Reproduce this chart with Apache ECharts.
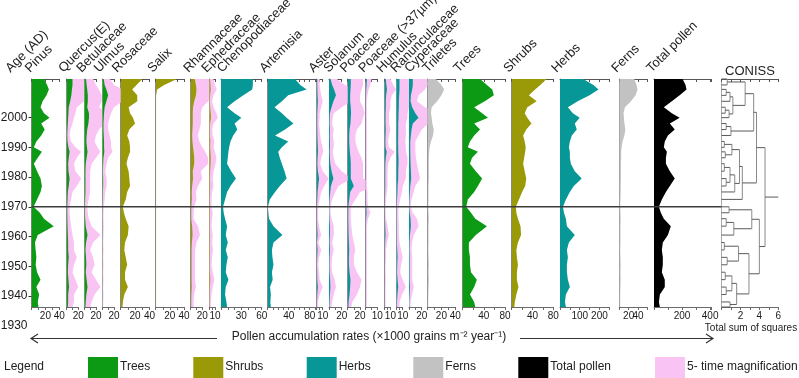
<!DOCTYPE html>
<html><head><meta charset="utf-8">
<script src="https://cdn.jsdelivr.net/npm/echarts@6/dist/echarts.min.js"></script>
<style>html,body{margin:0;padding:0;background:#fff}#c{width:799px;height:378px}</style>
</head><body><div id="c"></div>
<script>
// ---- Data (sample ages, AD) ----
const ages = [2013, 2011, 2009.5, 2007.5, 2005.5, 2003.5, 2001.5, 2000, 1998, 1996, 1994, 1992, 1990, 1988.5, 1986.5, 1984.5, 1982, 1979.5, 1977, 1975, 1972.5, 1970, 1968, 1966, 1963.5, 1960.5, 1958, 1955.5, 1953, 1950.5, 1948, 1945.5, 1943, 1940.5, 1938, 1936.3];
// pollen accumulation rates (x1000 grains m-2 yr-1)
const pinus = [18, 22.5, 25, 21.6, 16, 13, 18, 26, 14, 19, 14, 7, 3.4, 15, 9, 3.4, 8, 13, 15, 13, 8, 3, 12, 18, 32, 9, 5, 6, 7, 6, 8, 13, 7, 11, 9, 10];
const quercus = [10, 10, 9, 8, 6, 3.5, 3, 2.5, 2, 1.3, 1, 1.5, 3, 5, 3.5, 2.5, 3, 5, 3.5, 2, 1.5, 1, 1, 1.2, 1.5, 2, 2.5, 2.5, 3.5, 2.5, 2, 3, 4, 2.5, 2.5, 2];
const betulaceae = [3, 4, 5, 6, 6, 5, 8, 8, 7, 5, 4, 3.5, 4.5, 5.5, 4, 2.5, 2, 2, 2, 2, 1.5, 1, 1.2, 1.5, 2.5, 5.5, 3, 2, 3, 3.5, 2.5, 4, 5.5, 3.5, 2.5, 2];
const ulmus = [2.6, 4, 7, 10, 7, 4, 3, 2.5, 2, 2, 2.5, 3, 3, 3.5, 2, 1.5, 1, 1.5, 1.5, 1, 0.8, 0.5, 0.4, 0.4, 0.5, 0.4, 0.3, 0.4, 0.3, 0.4, 0.3, 0.4, 0.3, 0.4, 0.3, 0.3];
const rosaceae = [30, 22, 16, 23, 23, 11, 13, 17, 20, 12, 9, 12, 13, 13, 10, 8, 11, 12, 13, 9, 7, 3, 4.5, 7, 11, 10, 6, 5, 7, 9, 6, 6, 10, 5, 3, 2.5];
const salix = [30, 12, 2, 0.6, 0.5, 0.5, 0.5, 0.5, 0.5, 0.5, 0.5, 0.5, 0.5, 0.5, 0.5, 0.5, 0.5, 0.5, 0.5, 0.5, 0.5, 0.5, 0.5, 0.5, 0.5, 0.5, 0.5, 0.5, 0.5, 0.5, 0.5, 0.5, 0.5, 0.5, 0.5, 0.5];
const rhamnaceae = [7, 9, 10, 9, 6, 4, 3.5, 3.5, 3.5, 3, 2.5, 3, 4, 5, 6, 6, 3.5, 4, 2.5, 1.8, 2, 1.2, 1, 1, 2.5, 3.2, 2, 1.5, 1.5, 1.5, 1.5, 1.5, 1.8, 1.2, 1, 1];
const ephedraceae = [1.4, 2, 2.6, 1.5, 1, 1.5, 2.5, 3, 1.5, 1, 1.2, 1.8, 1.5, 2, 2.5, 2.2, 1.5, 1.2, 1.5, 1, 0.8, 0.8, 1.2, 1, 0.8, 1.2, 1, 1.3, 1, 0.8, 1.2, 1.8, 1.2, 0.8, 0.6, 0.6];
const chenopodiaceae = [47, 47, 46, 33, 20, 9, 20, 30, 20, 24, 18, 14, 12, 11, 10, 9, 15, 22, 14, 9, 6, 3, 4, 6, 9, 7, 10, 7, 10, 8, 7, 11, 7, 6, 8, 9];
const artemisia = [52, 62, 74, 39, 27, 13, 27, 36, 49, 33, 14, 39, 27, 20, 23, 27, 32, 36, 23, 14, 4, 0.5, 1.3, 2.5, 11, 28, 11, 8, 9, 11, 8, 9.5, 4.5, 6, 5, 6];
const aster = [1, 1, 1.2, 1.5, 2, 1.5, 1, 1, 0.8, 1, 1.2, 1.5, 2, 2.2, 1.5, 1.2, 2, 4, 2.5, 1.5, 1, 0.5, 0.5, 0.5, 0.8, 1.5, 0.5, 1.5, 0.8, 0.5, 0.8, 1, 2, 1, 0.5, 0.5];
const solanum = [2.5, 5, 8, 11, 7, 4, 1.5, 1.2, 1, 1.5, 1.2, 1.5, 1.5, 1.2, 1.5, 2, 4, 7, 3, 2, 1, 0.5, 0.5, 0.8, 1.5, 1.5, 1, 1.5, 1, 0.8, 1, 1.8, 2.2, 1.5, 1, 0.8];
const poaceae = [5, 5, 4.5, 4, 4, 5, 5.5, 5, 4.5, 3, 2.5, 2.5, 3, 3.5, 4.5, 5, 5, 5, 10, 4, 2.5, 1, 1, 1, 1.2, 1.5, 2, 2.5, 2, 2, 3, 4.5, 4, 3, 1.5, 1.2];
const poaceae37 = [1, 0.8, 0.5, 0.3, 0.2, 0.2, 0.2, 0.2, 0.2, 0.2, 0.2, 0.2, 0.2, 0.2, 0.2, 0.2, 0.2, 0.2, 0.2, 0.3, 0.3, 0.4, 0.8, 0.4, 0.2, 0.2, 0.2, 0.2, 0.2, 0.2, 0.2, 0.2, 0.2, 0.2, 0.2, 0.2];
const humulus = [2, 3, 4, 2.5, 2, 2, 1.5, 1.5, 1.5, 2, 1.5, 1.2, 1.5, 3.5, 2, 1.2, 1, 1, 1, 0.8, 0.5, 0.3, 0.3, 0.5, 1, 1.5, 0.8, 0.5, 0.5, 0.3, 0.3, 0.4, 0.3, 0.3, 0.3, 0.3];
const ranunculaceae = [5, 5, 5, 4.5, 4, 4, 3.5, 3.5, 3, 3, 3, 2.8, 3, 3, 3.5, 3.5, 3, 3, 2, 1.8, 1.2, 0.7, 0.7, 0.7, 0.8, 0.8, 1, 1.5, 2, 1.5, 1.2, 2, 3, 1.8, 1, 1];
const cyperaceae = [6, 6, 5, 3, 2.5, 5, 10, 15, 6, 4, 3, 2, 2, 2, 2.2, 2.5, 3, 3.5, 2, 1.5, 0.8, 0.5, 1.2, 2.5, 3, 1.5, 1, 0.8, 1, 1, 1, 1, 1.5, 1, 0.5, 0.5];
const triletes = [12, 20, 24, 20, 14, 6, 5, 6, 7, 9, 8, 5, 3, 2.5, 2, 2, 2, 2, 1.5, 1.5, 1.5, 1, 1.5, 2, 1.5, 1.5, 1.5, 1.2, 1.5, 2, 1.5, 2, 1.5, 1.2, 1, 1];
const trees = [33, 46, 56, 59, 42, 22, 37, 48, 22, 33, 22, 14, 10, 29, 18, 14, 25, 37, 29, 22, 10, 7, 16, 24, 46, 25, 12, 12, 14, 14, 16, 27, 22, 14, 22, 24];
const shrubs = [67, 55, 45, 33, 48, 30, 25, 30, 38, 28, 22, 25, 27, 26, 24, 22, 25, 28, 26, 20, 14, 8, 9, 12, 17, 18, 12, 9, 10, 12, 10, 10, 13, 9, 6, 5];
const herbs = [117, 170, 195, 150, 90, 40, 65, 100, 75, 85, 60, 50, 45, 50, 50, 55, 75, 110, 70, 50, 30, 15, 20, 30, 35, 75, 45, 35, 40, 35, 35, 40, 50, 30, 25, 30];
const ferns = [32, 37, 39, 35, 25, 12, 9, 10, 11, 13, 11, 7, 5, 4, 4, 3.5, 3.5, 3.5, 3, 3, 2.5, 2, 2.5, 3, 2.5, 2.5, 2.5, 2, 2.5, 3, 2.5, 3, 2.5, 2, 2, 2];
const totalPollen = [204, 225, 232, 183, 127, 70, 127, 183, 113, 148, 99, 77, 70, 92, 85, 85, 113, 148, 113, 85, 56, 35, 49, 70, 120, 99, 63, 56, 63, 63, 56, 77, 77, 42, 35, 42];
// CONISS merges: [nodeA, nodeB, total sum of squares]; new node id = ages.length + merge index
const coniss = [[0,1,0.6],[2,3,0.5],[37,4,0.9],[5,6,0.4],[39,7,0.8],[38,40,1.2],[36,41,2.5],[8,9,0.5],[43,10,1.0],[42,44,3.4],
  [11,12,0.3],[13,14,0.4],[46,47,1.1],[15,16,0.3],[17,18,0.5],[49,50,0.9],[51,19,1.4],[48,52,1.9],[53,20,2.2],[45,54,3.7],
  [21,22,0.8],[23,24,0.5],[57,25,1.3],[56,58,3.2],[26,27,0.3],[28,29,0.6],[60,61,1.8],[30,31,0.4],[32,33,0.5],[63,64,1.1],
  [34,35,0.9],[65,66,1.6],[62,67,2.9],[59,68,4.0],[55,69,4.6]];
const ageTicks = [1930, 1940, 1950, 1960, 1970, 1980, 1990, 2000, 2010];
const zoneBoundary = 1970;

// ---- Styles / layout ----
const TREE = '#0c9a14', SHRUB = '#9a9a08', HERB = '#089797', FERN = '#c2c2c2', TOTAL = '#000000', PINK = '#f9c4f4';
const FONT = '"Liberation Sans", Arial, sans-serif';
const TOP = 79, H = 228, YMIN = 1936.3, YMAX = 2013;

const panels = [
 {name:'Pinus', v:pinus, L:31.5, R:59.3, max:40, step:10, lab:[20,40], c:TREE, hx:32},
 {name:'Quercus(E)', v:quercus, L:66.7, R:78.3, max:20, step:10, lab:[20], c:TREE, pink:true, hx:65.5},
 {name:'Betulaceae', v:betulaceae, L:84.3, R:96, max:20, step:10, lab:[20], c:TREE, pink:true, hx:83.5},
 {name:'Ulmus', v:ulmus, L:102.3, R:114, max:20, step:10, lab:[20], c:TREE, pink:true, hx:101},
 {name:'Rosaceae', v:rosaceae, L:120.7, R:149.5, max:40, step:10, lab:[20,40], c:SHRUB, hx:119},
 {name:'Salix', v:salix, L:155.7, R:184, max:40, step:10, lab:[20,40], c:SHRUB, hx:154.5},
 {name:'Rhamnaceae', v:rhamnaceae, L:190.7, R:202.3, max:20, step:10, lab:[20], c:SHRUB, pink:true, hx:190.5},
 {name:'Ephedraceae', v:ephedraceae, L:209.3, R:215, max:10, step:5, lab:[10], c:SHRUB, pink:true, hx:208.5},
 {name:'Chenopodiaceae', v:chenopodiaceae, L:221, R:261.7, max:60, step:10, lab:[30,60], c:HERB, hx:224},
 {name:'Artemisia', v:artemisia, L:267.7, R:315, max:90, step:10, lab:[40,80], c:HERB, hx:266.5},
 {name:'Aster', v:aster, L:316.7, R:322.7, max:10, step:5, lab:[10], c:HERB, pink:true, hx:315.5},
 {name:'Solanum', v:solanum, L:329, R:341.7, max:20, step:10, lab:[20], c:HERB, pink:true, hx:330.5},
 {name:'Poaceae', v:poaceae, L:347.7, R:360, max:20, step:10, lab:[20], c:HERB, pink:true, hx:347},
 {name:'Poaceae (>37\u00b5m)', v:poaceae37, L:365.7, R:377.3, max:10, step:5, lab:[10], c:HERB, pink:true, hx:365.5},
 {name:'Humulus', v:humulus, L:384.7, R:390.4, max:10, step:5, lab:[10], c:HERB, pink:true, hx:383.5},
 {name:'Ranunculaceae', v:ranunculaceae, L:396.3, R:402.7, max:10, step:5, lab:[10], c:HERB, pink:true, hx:397.5},
 {name:'Cyperaceae', v:cyperaceae, L:409, R:421.7, max:20, step:10, lab:[20], c:HERB, pink:true, hx:411.5},
 {name:'Triletes', v:triletes, L:427.5, R:455.3, max:40, step:10, lab:[20,40], c:FERN, hx:429.5},
 {name:'Trees', v:trees, L:462.5, R:505, max:80, step:20, lab:[40,80], c:TREE, hx:460.5},
 {name:'Shrubs', v:shrubs, L:511.7, R:553.3, max:80, step:20, lab:[40,80], c:SHRUB, hx:510.5},
 {name:'Herbs', v:herbs, L:560, R:609.3, max:250, step:50, lab:[100,200], c:HERB, hx:558.5},
 {name:'Ferns', v:ferns, L:619.3, R:647.3, max:60, step:20, lab:[20,40], c:FERN, hx:618.5},
 {name:'Total pollen', v:totalPollen, L:654, R:711.5, max:410, step:100, lab:[200,400], c:TOTAL, hx:653.5}
];
const CON = {L:721.5, R:778.3, max:6, step:1, lab:[2,4,6]};

// ---- Build option ----
const grids = [], xAxes = [], yAxes = [], series = [], graphics = [];
function addGrid(L, W, top, h) { grids.push({left:L, width:W, top:top, height:h, outerBoundsMode:'none', containLabel:false}); return grids.length - 1; }
function addY(gi, min, max, lineColor) {
  yAxes.push({gridIndex:gi, type:'value', min:min, max:max, axisLine:{show:!!lineColor, onZero:false, lineStyle:{color:lineColor||'#888', width:1}},
    axisTick:{show:false}, axisLabel:{show:false}, splitLine:{show:false}});
  return yAxes.length - 1;
}
function addXPair(gi, max, step, lab) {
  xAxes.push({gridIndex:gi, type:'value', position:'bottom', min:0, max:max, interval:step,
    axisLine:{show:true, onZero:false, lineStyle:{color:'#6a6a6a', width:1}},
    axisTick:{show:true, length:3, lineStyle:{color:'#6a6a6a'}},
    axisLabel:{show:true, fontSize:10, color:'#1a1a1a', margin:4, fontFamily:FONT, showMinLabel:true, showMaxLabel:true, hideOverlap:false,
      formatter: v => lab.indexOf(v) >= 0 ? String(v) : ''},
    splitLine:{show:false}});
  const bi = xAxes.length - 1;
  xAxes.push({gridIndex:gi, type:'value', position:'top', min:0, max:max, interval:step,
    axisLine:{show:true, onZero:false, lineStyle:{color:'#555', width:1}},
    axisTick:{show:true, inside:true, length:3, lineStyle:{color:'#555'}},
    axisLabel:{show:false}, splitLine:{show:false}});
  return bi;
}
function addHiddenX(gi, max) {
  xAxes.push({gridIndex:gi, type:'value', min:0, max:max, show:false, axisLine:{onZero:false}, splitLine:{show:false}});
  return xAxes.length - 1;
}
function areaRenderer(vals, color, mult) {
  return function (params, api) {
    if (params.dataIndex !== 0) return null;
    const pts = [api.coord([0, ages[0]])];
    for (let i = 0; i < ages.length; i++) pts.push(api.coord([vals[i] * mult, ages[i]]));
    pts.push(api.coord([0, ages[ages.length - 1]]));
    const cs = params.coordSys;
    return {type:'polygon', shape:{points:pts}, style:{fill:color, stroke:null},
      clipPath:{type:'rect', shape:{x:cs.x, y:cs.y, width:cs.width, height:cs.height}}};
  };
}

panels.forEach((p, i) => {
  const W = p.R - p.L;
  if (p.pink) {
    const nextL = panels[i + 1].L;
    const pw = nextL - p.L;
    const pg = addGrid(p.L, pw, TOP, H);
    const px = addHiddenX(pg, pw * p.max / W);
    const py = addY(pg, YMIN, YMAX, null);
    series.push({type:'custom', xAxisIndex:px, yAxisIndex:py, clip:true, silent:true, z:1,
      data: ages.map((a, k) => [p.v[k] * 5, a]), renderItem: areaRenderer(p.v, PINK, 5)});
  }
  const g = addGrid(p.L, W, TOP, H);
  const bx = addXPair(g, p.max, p.step, p.lab);
  const y = addY(g, YMIN, YMAX, '#8a8a8a');
  series.push({type:'custom', xAxisIndex:bx, yAxisIndex:y, clip:true, silent:true, z:3,
    data: ages.map((a, k) => [p.v[k], a]), renderItem: areaRenderer(p.v, p.c, 1)});
  graphics.push({type:'text', x:p.hx, y:75, rotation:Math.PI / 4,
    style:{text:p.name, fontSize:13, fontFamily:FONT, fill:'#222', align:'left', verticalAlign:'bottom', textAlign:'left', textVerticalAlign:'bottom'}});
});

// Age axis
const ag = addGrid(31.5, 1, TOP, 83 * H / (YMAX - YMIN));
xAxes.push({gridIndex:ag, type:'value', show:false, min:0, max:1});
yAxes.push({gridIndex:ag, type:'value', min:1930, max:YMAX, interval:10,
  axisLine:{show:false}, axisTick:{show:true, length:3, lineStyle:{color:'#333'}, customValues: ageTicks.slice(1)},
  axisLabel:{show:true, fontSize:12, color:'#1a1a1a', margin:4, fontFamily:FONT, customValues: ageTicks, showMaxLabel:false,
    formatter: v => ageTicks.indexOf(v) >= 0 ? String(v) : ''}, splitLine:{show:false}});
graphics.push({type:'text', x:12.5, y:75, rotation:Math.PI / 4,
  style:{text:'Age (AD)', fontSize:13, fontFamily:FONT, fill:'#222', align:'left', verticalAlign:'bottom', textAlign:'left', textVerticalAlign:'bottom'}});

// CONISS
const cg = addGrid(CON.L, CON.R - CON.L, TOP, H);
const cx = addXPair(cg, CON.max, CON.step, CON.lab);
const cy = addY(cg, YMIN, YMAX, '#aaaaaa');
series.push({type:'custom', xAxisIndex:cx, yAxisIndex:cy, silent:true, z:3, data:[[0, ages[0]]],
  renderItem: function (params, api) {
    if (params.dataIndex !== 0) return null;
    const nx = ages.map(() => 0), ny = ages.slice(), segs = [];
    coniss.forEach(m => {
      const a = m[0], b = m[1], h = m[2];
      segs.push([[nx[a], ny[a]], [h, ny[a]], '#5a5a5a']);
      segs.push([[nx[b], ny[b]], [h, ny[b]], '#5a5a5a']);
      segs.push([[h, ny[a]], [h, ny[b]], '#8a8a8a']);
      nx.push(h); ny.push((ny[a] + ny[b]) / 2);
    });
    const r = nx.length - 1;
    segs.push([[nx[r], ny[r]], [CON.max, ny[r]], '#5a5a5a']);
    return {type:'group', children: segs.map(s => {
      const p1 = api.coord(s[0]), p2 = api.coord(s[1]);
      return {type:'line', shape:{x1:p1[0], y1:p1[1], x2:p2[0], y2:p2[1]}, style:{stroke:s[2], lineWidth:1}};
    })};
  }});
graphics.push({type:'text', x:750, y:71, style:{text:'CONISS', fontSize:13, fontFamily:FONT, fill:'#222', align:'center', verticalAlign:'middle', textAlign:'center', textVerticalAlign:'middle'}});
graphics.push({type:'text', x:751, y:328, style:{text:'Total sum of squares', fontSize:10, fontFamily:FONT, fill:'#222', align:'center', verticalAlign:'middle', textAlign:'center', textVerticalAlign:'middle'}});

// Zone boundary line (1970)
const zg = addGrid(31.5, CON.L - 31.5, TOP, H);
const zx = addHiddenX(zg, 1);
const zy = addY(zg, YMIN, YMAX, null);
series.push({type:'custom', xAxisIndex:zx, yAxisIndex:zy, silent:true, z:5, data:[[0, zoneBoundary]],
  renderItem: function (params, api) {
    const p1 = api.coord([0, zoneBoundary]), p2 = api.coord([1, zoneBoundary]);
    return {type:'line', shape:{x1:p1[0], y1:p1[1], x2:p2[0], y2:p2[1]}, style:{stroke:'#3c3c3c', lineWidth:1.5}};
  }});

// Axis title with arrows
graphics.push({type:'text', x:369, y:337, style:{text:'Pollen accumulation rates (\u00d71000 grains m\u207b\u00b2 year\u207b\u00b9)', fontSize:12, fontFamily:FONT, fill:'#222', align:'center', verticalAlign:'middle', textAlign:'center', textVerticalAlign:'middle'}});
graphics.push({type:'polyline', shape:{points:[[217, 338.5], [31, 338.5]]}, style:{stroke:'#333', lineWidth:1, fill:null}});
graphics.push({type:'polyline', shape:{points:[[38, 334], [31, 338.5], [38, 343]]}, style:{stroke:'#333', lineWidth:1.2, fill:null}});
graphics.push({type:'polyline', shape:{points:[[520, 338.5], [713, 338.5]]}, style:{stroke:'#333', lineWidth:1, fill:null}});
graphics.push({type:'polyline', shape:{points:[[706, 334], [713, 338.5], [706, 343]]}, style:{stroke:'#333', lineWidth:1.2, fill:null}});

// Legend
graphics.push({type:'text', x:4, y:367, style:{text:'Legend', fontSize:12, fontFamily:FONT, fill:'#222', align:'left', verticalAlign:'middle', textAlign:'left', textVerticalAlign:'middle'}});
const legendItems = [
  ['Trees', TREE, 88], ['Shrubs', SHRUB, 193.3], ['Herbs', HERB, 306.7], ['Ferns', FERN, 413.3], ['Total pollen', TOTAL, 518.3], ['5- time magnification', PINK, 655]
];
legendItems.forEach(it => {
  graphics.push({type:'rect', shape:{x:it[2], y:357, width:30, height:22}, style:{fill:it[1]}});
  graphics.push({type:'text', x:it[2] + 32, y:367, style:{text:it[0], fontSize:12, fontFamily:FONT, fill:'#222', align:'left', verticalAlign:'middle', textAlign:'left', textVerticalAlign:'middle'}});
});

const chart = echarts.init(document.getElementById('c'), null, {renderer:'canvas', width:799, height:378});
chart.setOption({
  animation:false,
  backgroundColor:'#ffffff',
  textStyle:{fontFamily:FONT},
  grid:grids, xAxis:xAxes, yAxis:yAxes, series:series,
  graphic:{elements:graphics}
});
</script></body></html>
